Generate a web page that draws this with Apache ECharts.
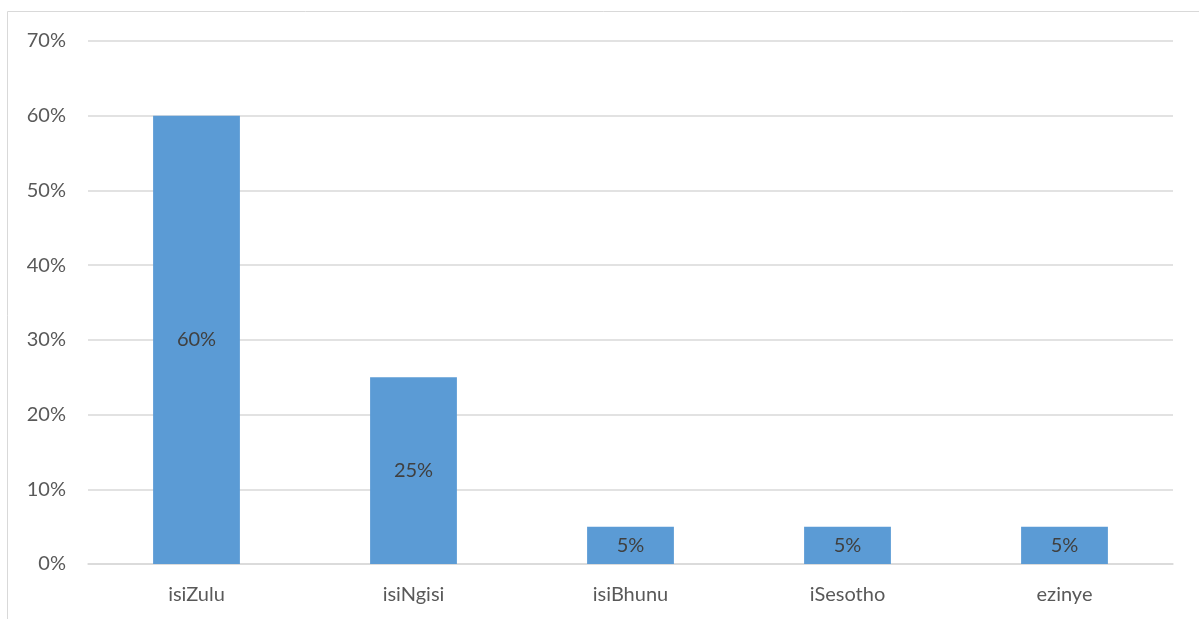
<!DOCTYPE html>
<html>
<head>
<meta charset="utf-8">
<script src="https://cdn.jsdelivr.net/npm/echarts@6/dist/echarts.min.js"></script>
<style>
html,body{margin:0;padding:0;background:#fff;}
#c{width:1199px;height:619px;}
</style>
</head>
<body>
<div id="c"></div>
<script>
const categories = ['isiZulu', 'isiNgisi', 'isiBhunu', 'iSesotho', 'ezinye'];
const values = [60, 25, 5, 5, 5];
const tickMax = 70;
const tickStep = 10;

const chart = echarts.init(document.getElementById('c'), null, {renderer: 'canvas'});
const font = 'Lato, "Open Sans", sans-serif';
chart.setOption({
  animation: false,
  textStyle: {fontFamily: font},
  graphic: [{
    type: 'rect', silent: true, z: -10,
    shape: {x: 7.5, y: 11.5, width: 1300, height: 700},
    style: {fill: 'none', stroke: '#d9d9d9', lineWidth: 1}
  }],
  grid: {left: 88, right: 26, top: 41, bottom: 55, containLabel: false},
  xAxis: {
    type: 'category',
    data: categories,
    axisLine: {show: true, lineStyle: {color: '#d9d9d9', width: 1.5}},
    axisTick: {show: false},
    axisLabel: {color: '#595959', fontSize: 20, margin: 21, fontFamily: font}
  },
  yAxis: {
    type: 'value',
    min: 0, max: tickMax, interval: tickStep,
    axisLine: {show: false},
    axisTick: {show: false},
    splitLine: {lineStyle: {color: '#d9d9d9', width: 1.5}},
    axisLabel: {color: '#595959', fontSize: 20, margin: 22, fontFamily: font, formatter: v => v + '%'}
  },
  series: [{
    type: 'bar',
    data: values,
    barWidth: '40%',
    itemStyle: {color: '#5b9bd5'},
    label: {show: true, position: 'inside', color: '#404040', fontSize: 20, fontFamily: font, formatter: p => p.value + '%'}
  }]
});
</script>
</body>
</html>
